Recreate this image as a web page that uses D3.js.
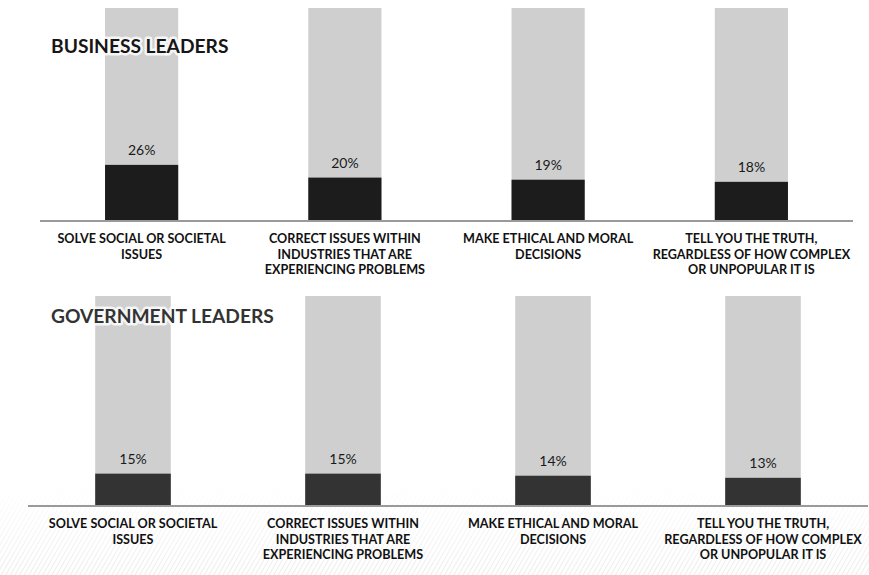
<!DOCTYPE html>
<html lang="en">
<head>
<meta charset="UTF-8">
<title>Leaders</title>
<script src="https://d3js.org/d3.v7.min.js"></script>
<style>
body { margin: 0; background: #fff; }
svg { display: block; }
.title { font-family: Lato, "Open Sans", sans-serif; font-weight: bold; font-size: 19.2px; }
.halo { stroke: #fff; stroke-width: 5px; stroke-opacity: 0.8; stroke-linejoin: round; fill: #fff; }
.cat { font-family: Lato, "Open Sans", sans-serif; font-weight: bold; font-size: 12.6px; fill: #111; }
.pct { font-family: Lato, "Open Sans", sans-serif; font-size: 14px; fill: #1a1a1a; }
</style>
</head>
<body>
<svg width="869" height="575"></svg>
<script>
// categories, shared by both panels
var categories = ["solve", "correct", "ethical", "truth"];
var catLines = [
  ["SOLVE SOCIAL OR SOCIETAL", "ISSUES"],
  ["CORRECT ISSUES WITHIN", "INDUSTRIES THAT ARE", "EXPERIENCING PROBLEMS"],
  ["MAKE ETHICAL AND MORAL", "DECISIONS"],
  ["TELL YOU THE TRUTH,", "REGARDLESS OF HOW COMPLEX", "OR UNPOPULAR IT IS"]
];
var businessValues = [26, 20, 19, 18];
var governmentValues = [15, 15, 14, 13];
var trackValue = 100;

var svg = d3.select("svg");

// faint hatched texture at the bottom
var defs = svg.append("defs");
var pat = defs.append("pattern")
    .attr("id", "hatch")
    .attr("width", 4).attr("height", 4)
    .attr("patternUnits", "userSpaceOnUse")
    .attr("patternTransform", "rotate(30)");
pat.append("line")
    .attr("x1", 0).attr("y1", 0).attr("x2", 0).attr("y2", 4)
    .attr("stroke", "#cccccc").attr("stroke-width", 1.1);
var grad = defs.append("linearGradient")
    .attr("id", "fade").attr("x1", 0).attr("y1", 0).attr("x2", 0).attr("y2", 1);
grad.append("stop").attr("offset", "0").attr("stop-color", "#fff").attr("stop-opacity", 0);
grad.append("stop").attr("offset", "1").attr("stop-color", "#fff").attr("stop-opacity", 1);
var mask = defs.append("mask").attr("id", "fadeMask");
mask.append("rect").attr("x", 0).attr("y", 485).attr("width", 869).attr("height", 90)
    .attr("fill", "url(#fade)");
svg.append("rect")
    .attr("x", 0).attr("y", 485).attr("width", 869).attr("height", 90)
    .attr("fill", "url(#hatch)")
    .attr("mask", "url(#fadeMask)")
    .attr("opacity", 0.7);

function drawPanel(opt) {
  var g = svg.append("g");

  var x = d3.scaleBand()
      .domain(categories)
      .range([opt.left, opt.right])
      .paddingInner(0.64)
      .paddingOuter(0.32);

  var y = d3.scaleLinear()
      .domain([0, 100])
      .range([opt.base, opt.base - 100 * opt.k]);

  // grey 100% tracks
  g.selectAll(".track")
    .data(categories)
    .enter().append("rect")
      .attr("class", "track")
      .attr("x", function(d) { return x(d); })
      .attr("width", x.bandwidth())
      .attr("y", y(trackValue))
      .attr("height", y(0) - y(trackValue))
      .attr("fill", "#cfcfcf");

  // soft white halo behind the title, then the title
  g.append("text")
      .attr("class", "title halo")
      .attr("x", 51)
      .attr("y", opt.titleY)
      .text(opt.title);
  g.append("text")
      .attr("class", "title")
      .attr("x", 51)
      .attr("y", opt.titleY)
      .attr("fill", opt.titleColor)
      .text(opt.title);

  g.selectAll(".bar")
    .data(opt.values)
    .enter().append("rect")
      .attr("class", "bar")
      .attr("x", function(d, i) { return x(categories[i]); })
      .attr("width", x.bandwidth())
      .attr("y", function(d) { return y(d); })
      .attr("height", function(d) { return y(0) - y(d); })
      .attr("fill", opt.barColor);

  g.selectAll(".pct")
    .data(opt.values)
    .enter().append("text")
      .attr("class", "pct")
      .attr("text-anchor", "middle")
      .attr("x", function(d, i) { return x(categories[i]) + x.bandwidth() / 2; })
      .attr("y", function(d) { return y(d) - 10; })
      .text(function(d) { return d + "%"; });

  g.append("line")
      .attr("x1", opt.left).attr("x2", opt.right)
      .attr("y1", opt.base + 1).attr("y2", opt.base + 1)
      .attr("stroke", "#9a9a9a")
      .attr("stroke-width", 2);

  var labels = g.selectAll(".cat")
    .data(catLines)
    .enter().append("text")
      .attr("class", "cat")
      .attr("text-anchor", "middle")
      .attr("x", function(d, i) { return x(categories[i]) + x.bandwidth() / 2; })
      .attr("y", opt.base + 23);

  labels.selectAll("tspan")
    .data(function(d) { return d; })
    .enter().append("tspan")
      .attr("x", function() { return d3.select(this.parentNode).attr("x"); })
      .attr("dy", function(d, i) { return i === 0 ? 0 : 15.7; })
      .text(function(d) { return d; });
}

drawPanel({
  title: "BUSINESS LEADERS", titleY: 53, titleColor: "#161616",
  values: businessValues, barColor: "#1c1c1c",
  left: 40, right: 853, base: 220, k: 2.12
});

drawPanel({
  title: "GOVERNMENT LEADERS", titleY: 322.5, titleColor: "#333",
  values: governmentValues, barColor: "#333",
  left: 28, right: 868, base: 505, k: 2.09
});
</script>
</body>
</html>
